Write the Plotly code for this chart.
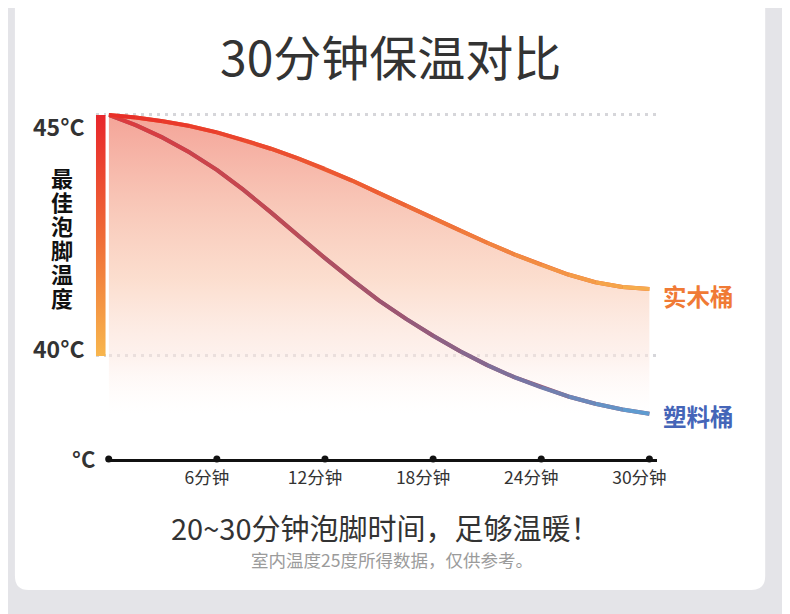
import plotly.graph_objects as go

# readings: minutes vs. water temperature (°C)
MINUTES = [0, 1.5, 3, 4.5, 6, 7.5, 9, 10.5, 12, 13.5, 15,
           16.5, 18, 19.5, 21, 22.5, 24, 25.5, 27, 28.5, 30]
WOOD_TEMP = [45.00, 44.95, 44.87, 44.77, 44.64, 44.48, 44.30, 44.10, 43.88, 43.64, 43.38,
             43.12, 42.86, 42.60, 42.35, 42.11, 41.89, 41.69, 41.53, 41.43, 41.39]
PLASTIC_TEMP = [45.00, 44.79, 44.53, 44.22, 43.86, 43.44, 42.98, 42.50, 42.03, 41.58, 41.15,
                40.77, 40.42, 40.10, 39.81, 39.56, 39.35, 39.16, 39.01, 38.89, 38.80]

X_TICKS = [0, 6, 12, 18, 24, 30]
X_TICK_TEXT = ["", "6分钟", "12分钟", "18分钟", "24分钟", "30分钟"]
Y_TICKS = [40, 45]
Y_TICK_TEXT = ["40°C", "45°C"]
SERIES_NAMES = ["实木桶", "塑料桶"]
BAR_TEXT = "最佳泡脚温度"

TITLE = "30分钟保温对比"
HEADLINE = "20~30分钟泡脚时间，足够温暖！"
NOTE = "室内温度25度所得数据，仅供参考。"

# the page body keeps an 8px margin, so the figure is sized to fit beside it
PAGE_OFFSET = 8
W, H = 790 - PAGE_OFFSET, 614 - PAGE_OFFSET
FONT = "Noto Sans CJK SC"
Y_RANGE = [37.863, 45.311]
X_RANGE = [0, 30.4]

WOOD_STOPS = [(0.0, (232, 44, 40)), (0.5, (237, 96, 52)), (1.0, (246, 176, 78))]
PLASTIC_STOPS = [(0.0, (222, 58, 60)), (0.35, (186, 76, 88)), (0.55, (152, 88, 118)),
                 (0.78, (118, 118, 164)), (1.0, (92, 160, 214))]


def px_x(px: float) -> float:
    return (px - PAGE_OFFSET) / W


def px_y(py: float) -> float:
    return 1 - (py - PAGE_OFFSET) / H


def lerp_color(stops, t: float) -> str:
    for (t0, c0), (t1, c1) in zip(stops, stops[1:]):
        if t <= t1:
            f = (t - t0) / (t1 - t0)
            rgb = [round(a + (b - a) * f) for a, b in zip(c0, c1)]
            return "rgb({},{},{})".format(*rgb)
    return "rgb({},{},{})".format(*stops[-1][1])


def add_gradient_line(fig, xs, ys, stops, width):
    n = len(xs) - 1
    fig.add_trace(go.Scatter(x=xs, y=ys, mode="lines", line={"color": lerp_color(stops, 0.5), "width": width},
                             hoverinfo="skip", showlegend=False))
    for i in range(n):
        fig.add_trace(go.Scatter(
            x=xs[i:i + 2], y=ys[i:i + 2], mode="lines",
            line={"color": lerp_color(stops, (i + 0.5) / n), "width": width},
            hoverinfo="skip", showlegend=False,
        ))


fig = go.Figure()

# soft area under the wooden bucket curve
fig.add_trace(go.Scatter(
    x=MINUTES, y=WOOD_TEMP, mode="lines", line={"width": 0}, fill="tozeroy",
    fillgradient={
        "type": "vertical", "start": 38.8, "stop": 45.0,
        "colorscale": [
            [0.0, "rgba(255,245,242,0)"],
            [0.2, "rgba(252,230,222,0.55)"],
            [0.45, "rgba(251,216,198,0.85)"],
            [0.7, "rgba(248,196,180,0.95)"],
            [1.0, "rgba(244,164,152,1)"],
        ],
    },
    hoverinfo="skip", showlegend=False,
))

add_gradient_line(fig, MINUTES, PLASTIC_TEMP, PLASTIC_STOPS, 4)
add_gradient_line(fig, MINUTES, WOOD_TEMP, WOOD_STOPS, 4)

# dots on the time axis
fig.add_trace(go.Scatter(
    x=X_TICKS, y=[Y_RANGE[0]] * len(X_TICKS), mode="markers",
    marker={"size": 7, "color": "#111111"}, cliponaxis=False,
    hoverinfo="skip", showlegend=False,
))

# gradient bar marking the best temperature band
fig.add_trace(go.Scatter(
    x=[0, 1, 1, 0, 0], y=[Y_TICKS[0], Y_TICKS[0], Y_TICKS[1], Y_TICKS[1], Y_TICKS[0]],
    xaxis="x2", mode="lines", line={"width": 0}, fill="toself",
    fillgradient={
        "type": "vertical", "start": Y_TICKS[0], "stop": Y_TICKS[1],
        "colorscale": [[0.0, "#f8b64d"], [0.5, "#ef6a36"], [1.0, "#e8262b"]],
    },
    hoverinfo="skip", showlegend=False,
))

annotations = [
    {"text": TITLE, "x": px_x(395), "y": px_y(55), "font": {"size": 48, "color": "#333333"}},
    {"text": HEADLINE, "x": px_x(390), "y": px_y(527), "font": {"size": 29, "color": "#333333"}},
    {"text": NOTE, "x": px_x(397), "y": px_y(559), "font": {"size": 17.5, "color": "#9b9b9b"}},
    {"text": "°C", "x": px_x(98), "y": px_y(458), "xanchor": "right",
     "font": {"size": 22, "color": "#333333", "weight": 700}},
]
for value, label, shift in zip(Y_TICKS, Y_TICK_TEXT, [8, -11]):
    annotations.append({
        "text": label, "x": px_x(88), "xref": "paper", "y": value, "yref": "y", "yshift": shift,
        "xanchor": "right", "font": {"size": 23, "color": "#333333", "weight": 700},
    })
for i, ch in enumerate(BAR_TEXT):
    annotations.append({
        "text": ch, "x": px_x(63), "y": px_y(177 + 24 * i),
        "font": {"size": 22, "color": "#111111", "weight": 700},
    })
for name, temps, color, shift in zip(SERIES_NAMES, [WOOD_TEMP, PLASTIC_TEMP],
                                     ["#f07a35", "#4565b8"], [-7, -2]):
    annotations.append({
        "text": name, "x": MINUTES[-1], "y": temps[-1], "xref": "x", "yref": "y",
        "xanchor": "left", "xshift": 12, "yshift": shift,
        "font": {"size": 23.5, "color": color, "weight": 700},
    })
for a in annotations:
    a.setdefault("xref", "paper")
    a.setdefault("yref", "paper")
    a.setdefault("xanchor", "center")
    a["font"]["family"] = FONT
    a["yanchor"] = "middle"
    a["showarrow"] = False

x0, x1, yb = px_x(15), px_x(775), px_y(590)
rx, ry = 14 / W, 14 / H
card = (f"M {x0},1.1 L {x0},{yb + ry} Q {x0},{yb} {x0 + rx},{yb} "
        f"L {x1 - rx},{yb} Q {x1},{yb} {x1},{yb + ry} L {x1},1.1 Z")

fig.update_layout(
    width=W, height=H,
    margin={"l": 0, "r": 0, "t": 0, "b": 0},
    paper_bgcolor="#e4e4e8",
    plot_bgcolor="rgba(0,0,0,0)",
    font={"family": FONT, "color": "#333333"},
    showlegend=False,
    xaxis={
        "domain": [px_x(110), px_x(665)], "range": X_RANGE, "anchor": "y",
        "showline": True, "linecolor": "#111111", "linewidth": 2.5,
        "showgrid": False, "zeroline": False, "ticks": "",
        "tickvals": X_TICKS, "ticktext": X_TICK_TEXT,
        "tickfont": {"family": FONT, "size": 17.5, "color": "#333333"},
        "ticklabelshift": -10, "ticklabelstandoff": 1,
        "fixedrange": True,
    },
    xaxis2={"domain": [px_x(97), px_x(107)], "range": [0, 1], "anchor": "y", "visible": False},
    yaxis={
        "domain": [px_y(459), px_y(100)], "range": Y_RANGE, "anchor": "x",
        "tickvals": Y_TICKS, "showticklabels": False, "ticks": "",
        "showgrid": True, "gridcolor": "#d6d6da", "gridwidth": 3, "griddash": "3px,5px",
        "zeroline": False, "showline": False, "fixedrange": True,
    },
    shapes=[{"type": "path", "path": card, "xref": "paper", "yref": "paper",
             "fillcolor": "#ffffff", "line": {"width": 0}, "layer": "below"}],
    annotations=annotations,
)

fig.write_html("out.html")
